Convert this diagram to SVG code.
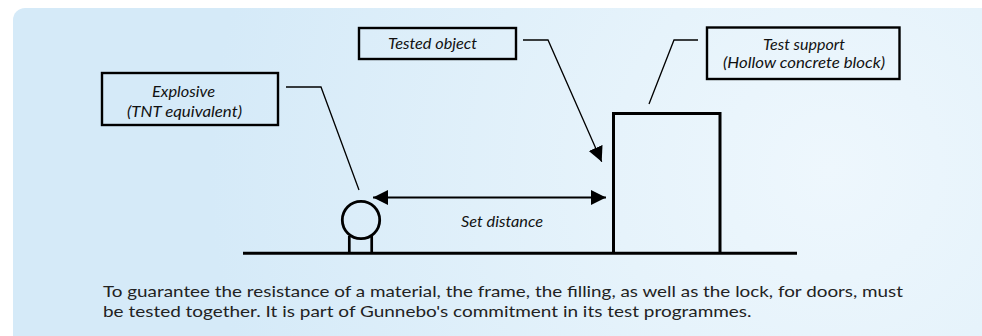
<svg xmlns="http://www.w3.org/2000/svg" width="982" height="336" viewBox="0 0 982 336">
  <defs>
    <radialGradient id="bg" gradientUnits="userSpaceOnUse" cx="830" cy="170" r="620">
      <stop offset="0" stop-color="#eef7fd"/>
      <stop offset="0.35" stop-color="#e6f3fb"/>
      <stop offset="1" stop-color="#d5eaf8"/>
    </radialGradient>
    <marker id="ah" markerUnits="userSpaceOnUse" markerWidth="16" markerHeight="16" viewBox="0 0 16 16" refX="15" refY="8" orient="auto-start-reverse">
      <path d="M0,0.5 L15,8 L0,15.5 Z" fill="#000"/>
    </marker>
  </defs>
  <style>
    .box { fill: none; stroke: #000; stroke-width: 2.4; }
    .lbl { font-family: Lato, "Noto Sans", sans-serif; font-style: italic; font-size: 15px; fill: #111; }
    .body { font-family: Lato, "Noto Sans", sans-serif; font-size: 16px; fill: #222; }
    .leader { fill: none; stroke: #000; stroke-width: 1.3; }
    .thick { fill: none; stroke: #000; stroke-width: 3; }
  </style>

  <rect x="13" y="8" width="1000" height="340" rx="12" ry="12" fill="url(#bg)"/>

  <g id="explosive-label">
    <rect class="box" x="102" y="73" width="176" height="52"/>
    <text class="lbl" x="152" y="96.7" textLength="63" lengthAdjust="spacingAndGlyphs">Explosive</text>
    <text class="lbl" x="127" y="116.7" textLength="115" lengthAdjust="spacingAndGlyphs">(TNT equivalent)</text>
  </g>

  <g id="tested-object-label">
    <rect class="box" x="359" y="28" width="157" height="31"/>
    <text class="lbl" x="388" y="49.3" textLength="89" lengthAdjust="spacingAndGlyphs">Tested object</text>
  </g>

  <g id="test-support-label">
    <rect class="box" x="707" y="27.5" width="192.5" height="51.5"/>
    <text class="lbl" x="763" y="49.5" textLength="82" lengthAdjust="spacingAndGlyphs">Test support</text>
    <text class="lbl" x="723" y="68.3" textLength="162" lengthAdjust="spacingAndGlyphs">(Hollow concrete block)</text>
  </g>

  <g id="ground">
    <line class="thick" x1="243" y1="253.3" x2="797" y2="253.3"/>
  </g>

  <g id="explosive">
    <circle cx="361" cy="220" r="18.7" fill="none" stroke="#000" stroke-width="2.8"/>
    <line x1="349.3" y1="236" x2="349.3" y2="253" stroke="#000" stroke-width="2.7"/>
    <line x1="371.7" y1="236" x2="371.7" y2="253" stroke="#000" stroke-width="2.7"/>
  </g>

  <g id="test-block">
    <path class="thick" d="M613.5,253 V113.5 H720 V253"/>
  </g>

  <g id="connectors">
    <polyline class="leader" points="286,87 321,87 359,190"/>
    <polyline class="leader" points="523,40 548,40 601.7,161.7" marker-end="url(#ah)"/>
    <polyline class="leader" points="698,40 674,40 649,104"/>
    <line x1="373" y1="197.5" x2="606" y2="197.5" stroke="#000" stroke-width="2" marker-start="url(#ah)" marker-end="url(#ah)"/>
  </g>

  <g id="set-distance-label">
    <text class="lbl" x="461" y="226.7" textLength="82" lengthAdjust="spacingAndGlyphs">Set distance</text>
  </g>

  <g id="caption">
    <text class="body" x="103" y="297" textLength="800" lengthAdjust="spacingAndGlyphs">To guarantee the resistance of a material, the frame, the filling, as well as the lock, for doors, must</text>
    <text class="body" x="103" y="316.5" textLength="648.5" lengthAdjust="spacingAndGlyphs">be tested together. It is part of Gunnebo's commitment in its test programmes.</text>
  </g>
</svg>
